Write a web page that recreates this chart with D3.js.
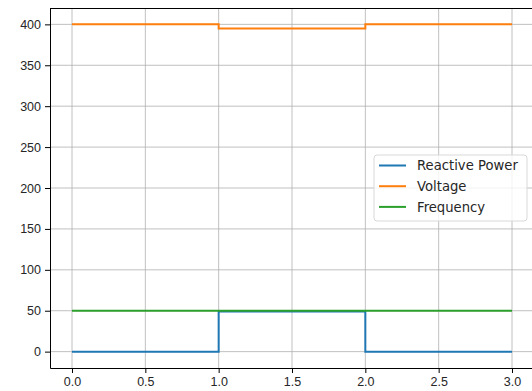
<!DOCTYPE html>
<html>
<head>
<meta charset="utf-8">
<script src="https://cdn.jsdelivr.net/npm/d3@7"></script>
<style>
  body { margin: 0; background: #fff; }
  svg { display: block; font-family: "DejaVu Sans", sans-serif; }
  .tick text { font-size: 12.5px; fill: #262626; }
  .grid line { stroke: #b0b0b0; stroke-width: 0.8; }
</style>
</head>
<body>
<svg></svg>
<script>
const time = [0, 1, 1, 2, 2, 3];
const reactivePower = [0, 0, 49, 49, 0, 0];
const voltage = [400, 400, 395, 395, 400, 400];
const frequency = [50, 50, 50, 50, 50, 50];
const seriesNames = ['Reactive Power', 'Voltage', 'Frequency'];
const seriesColors = ['#1f77b4', '#ff7f0e', '#2ca02c'];
const xTicks = [0, 0.5, 1, 1.5, 2, 2.5, 3];
const yTicks = [0, 50, 100, 150, 200, 250, 300, 350, 400];

const width = 532, height = 391;
const margin = { left: 50, top: 8, right: -2, bottom: 23 };

const svg = d3.select('svg').attr('width', width).attr('height', height);

const x = d3.scaleLinear().domain([-0.15, 3.15]).range([margin.left, width - margin.right]);
const y = d3.scaleLinear().domain([-20, 420]).range([height - margin.bottom, margin.top]);

// grid
const grid = svg.append('g').attr('class', 'grid');
grid.selectAll('.gx').data(xTicks).enter().append('line')
  .attr('x1', d => x(d)).attr('x2', d => x(d))
  .attr('y1', y.range()[0]).attr('y2', y.range()[1]);
grid.selectAll('.gy').data(yTicks).enter().append('line')
  .attr('x1', x.range()[0]).attr('x2', x.range()[1])
  .attr('y1', d => y(d)).attr('y2', d => y(d));

// lines
const allSeries = [reactivePower, voltage, frequency];
const line = d3.line().x((d, i) => x(time[i])).y(d => y(d));
svg.selectAll('.series').data(allSeries).enter().append('path')
  .attr('fill', 'none')
  .attr('stroke', (d, i) => seriesColors[i])
  .attr('stroke-width', 2)
  .attr('d', line);

// axes
const xAxis = svg.append('g')
  .attr('transform', `translate(0,${y.range()[0]})`)
  .call(d3.axisBottom(x).tickValues(xTicks).tickFormat(d3.format('.1f'))
    .tickSizeInner(5).tickSizeOuter(0).tickPadding(4));
const yAxis = svg.append('g')
  .attr('transform', `translate(${x.range()[0]},0)`)
  .call(d3.axisLeft(y).tickValues(yTicks).tickSizeInner(5).tickSizeOuter(0).tickPadding(4));
[xAxis, yAxis].forEach(a => {
  a.select('.domain').attr('stroke', '#000').attr('stroke-width', 1);
  a.selectAll('.tick line').attr('stroke', '#000').attr('stroke-width', 1);
});

// top spine
svg.append('line')
  .attr('x1', x.range()[0]).attr('x2', x.range()[1])
  .attr('y1', y.range()[1] + 0.5).attr('y2', y.range()[1] + 0.5)
  .attr('stroke', '#000').attr('stroke-width', 1);

// legend
const legend = svg.append('g').attr('transform', 'translate(374,155)');
legend.append('rect')
  .attr('width', 153).attr('height', 66).attr('rx', 3)
  .attr('fill', 'rgba(255,255,255,0.8)').attr('stroke', '#d9d9d9');
const items = legend.selectAll('.item').data(seriesNames).enter().append('g')
  .attr('transform', (d, i) => `translate(0,${10.5 + i * 20.7})`);
items.append('line')
  .attr('x1', 5).attr('x2', 32)
  .attr('stroke', (d, i) => seriesColors[i]).attr('stroke-width', 2);
items.append('text')
  .attr('x', 43).attr('y', 4.7)
  .attr('font-size', '13.2px').attr('fill', '#262626')
  .text(d => d);
</script>
</body>
</html>
